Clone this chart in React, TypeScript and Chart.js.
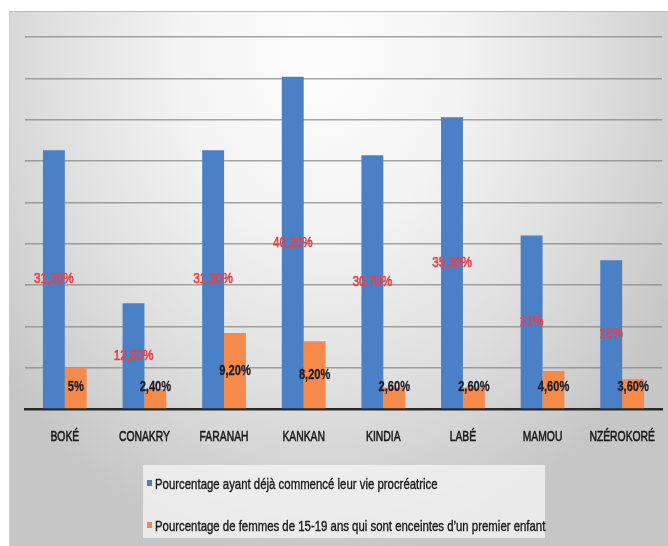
import { useEffect, useRef } from "react";
import { Chart, registerables } from "chart.js";

Chart.register(...registerables);

// Regions of Guinea
const regions = ["BOKÉ", "CONAKRY", "FARANAH", "KANKAN", "KINDIA", "LABÉ", "MAMOU", "NZÉROKORÉ"];
// % of adolescents who have already started their reproductive life
const procreation = [31.3, 12.8, 31.3, 40.2, 30.7, 35.3, 21, 18];
// % of women aged 15-19 pregnant with a first child
const pregnantFirst = [5, 2.4, 9.2, 8.2, 2.6, 2.6, 4.6, 3.6];
const seriesNames = [
  "Pourcentage ayant déjà commencé leur vie procréatrice",
  "Pourcentage de femmes de 15-19 ans qui sont enceintes d’un premier enfant",
];
const seriesColors = ["#4a80c6", "#f68a4a"];
const yMax = 45;
const yStep = 5;

const FONT = "'Liberation Sans', Arial, sans-serif";

const fmt = (v: number) =>
  Number.isInteger(v) ? `${v}%` : `${v.toFixed(2).replace(".", ",")}%`;

// draws text compressed horizontally, with a thin outline for weight
function squeezedText(
  ctx: CanvasRenderingContext2D,
  text: string,
  x: number,
  y: number,
  k: number,
  stroke: number
) {
  ctx.save();
  ctx.translate(x, y);
  ctx.scale(k, 1);
  ctx.fillText(text, 0, 0);
  if (stroke > 0) {
    ctx.strokeStyle = ctx.fillStyle;
    ctx.lineWidth = stroke;
    ctx.lineJoin = "round";
    ctx.strokeText(text, 0, 0);
  }
  ctx.restore();
}

// category names under the axis
const categoryLabels = {
  id: "categoryLabels",
  afterDraw(chart: any) {
    const ctx = chart.ctx as CanvasRenderingContext2D;
    const xs = chart.scales.x;
    ctx.save();
    ctx.font = `15px ${FONT}`;
    ctx.fillStyle = "#1a1a1a";
    ctx.textAlign = "center";
    ctx.textBaseline = "middle";
    (chart.data.labels as string[]).forEach((lab, i) => {
      squeezedText(ctx, lab, xs.getPixelForTick(i), xs.top + 28, 0.69, 0.6);
    });
    ctx.restore();
  },
};

// value labels centred inside the bars
const valueLabels = {
  id: "valueLabels",
  afterDatasetsDraw(chart: any) {
    const ctx = chart.ctx as CanvasRenderingContext2D;
    chart.data.datasets.forEach((ds: any, di: number) => {
      const meta = chart.getDatasetMeta(di);
      meta.data.forEach((bar: any, i: number) => {
        const { x, y, base } = bar.getProps(["x", "y", "base"], true);
        let ty = (y + base) / 2;
        if (di === 1) ty = Math.min(ty, base - 21);
        ctx.save();
        ctx.font = `${di === 0 ? "" : "bold "}15px ${FONT}`;
        ctx.fillStyle = di === 0 ? "#e6434b" : "#1c1c28";
        ctx.textAlign = "center";
        ctx.textBaseline = "middle";
        squeezedText(ctx, fmt(ds.data[i]), x, ty, di === 0 ? 0.78 : 0.74, di === 0 ? 0.7 : 0.3);
        ctx.restore();
      });
    });
  },
};

export default function App() {
  const canvasRef = useRef<HTMLCanvasElement | null>(null);

  useEffect(() => {
    if (!canvasRef.current) return;
    const chart = new Chart(canvasRef.current, {
      type: "bar",
      data: {
        labels: regions,
        datasets: [
          { label: seriesNames[0], data: procreation, backgroundColor: seriesColors[0] },
          { label: seriesNames[1], data: pregnantFirst, backgroundColor: seriesColors[1] },
        ],
      },
      options: {
        responsive: false,
        animation: false,
        devicePixelRatio: 1,
        layout: { padding: { left: 25, right: 6, top: 37, bottom: 97 } },
        datasets: { bar: { categoryPercentage: 0.55, barPercentage: 1 } },
        plugins: { legend: { display: false }, tooltip: { enabled: false } },
        scales: {
          x: {
            grid: { display: false, drawTicks: false },
            border: { display: true, color: "#2a2a2a", width: 2.5 },
            ticks: { display: false },
            afterFit: (s: any) => {
              s.height = 40;
            },
          },
          y: {
            min: 0,
            max: yMax,
            ticks: { display: false, stepSize: yStep },
            grid: { color: "rgba(130,130,130,0.7)", lineWidth: 1.5, drawTicks: false },
            border: { display: false },
            afterFit: (s: any) => {
              s.width = 0;
            },
          },
        },
      },
      plugins: [valueLabels, categoryLabels],
    });
    return () => chart.destroy();
  }, []);

  return (
    <div style={{ position: "fixed", left: 0, top: 0, width: 668, height: 546, background: "#fff", overflow: "hidden" }}>
      <div
        style={{
          position: "absolute",
          left: 9,
          top: 11,
          width: 659,
          height: 535,
          borderTop: "1px solid #bdbdbd",
          borderLeft: "1px solid #cfcfcf",
          background:
            "radial-gradient(ellipse 62% 95% at 47% 8%, #fdfdfd 0%, #f3f3f3 35%, #dedede 68%, #c6c6c6 100%)",
        }}
      />
      <canvas ref={canvasRef} width={668} height={546} style={{ position: "absolute", left: 0, top: 0 }} />
      <div
        style={{
          position: "absolute",
          left: 143,
          top: 465,
          width: 402,
          height: 73,
          background: "rgba(246,246,246,0.75)",
          fontFamily: FONT,
          fontSize: 15,
          color: "#1a1a1a",
          WebkitTextStroke: "0.4px #1a1a1a",
        }}
      >
        {seriesNames.map((name, i) => (
          <div
            key={name}
            style={{
              position: "absolute",
              left: 4,
              top: i === 0 ? 9 : 51,
              height: 18,
              display: "flex",
              alignItems: "center",
              whiteSpace: "nowrap",
            }}
          >
            <span style={{ display: "inline-block", width: 5, height: 6, background: seriesColors[i], marginRight: 3 }} />
            <span style={{ display: "inline-block", transform: "scaleX(0.76)", transformOrigin: "left center" }}>
              {name}
            </span>
          </div>
        ))}
      </div>
    </div>
  );
}
